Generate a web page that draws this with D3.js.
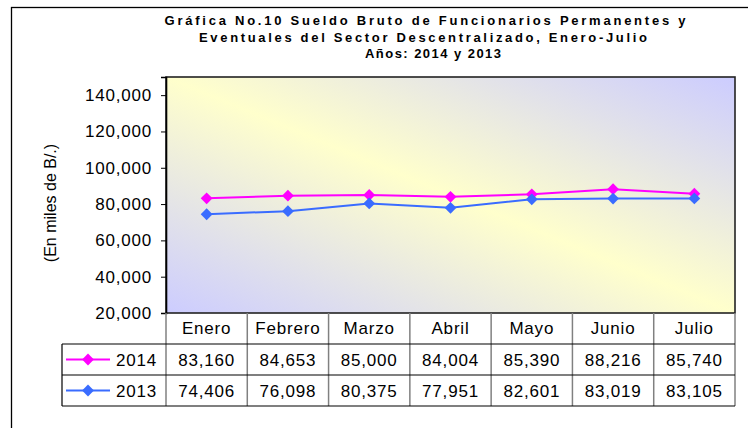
<!DOCTYPE html>
<html>
<head>
<meta charset="utf-8">
<script src="https://cdn.jsdelivr.net/npm/d3@7"></script>
<style>
  body { margin: 0; background: #fff; }
  text { font-family: "Liberation Sans", Arial, sans-serif; fill: #000; }
</style>
</head>
<body>
<div id="chart"></div>
<script>
// data
const months = ["Enero", "Febrero", "Marzo", "Abril", "Mayo", "Junio", "Julio"];
const values2014 = [83160, 84653, 85000, 84004, 85390, 88216, 85740];
const values2013 = [74406, 76098, 80375, 77951, 82601, 83019, 83105];
const yTicks = [20000, 40000, 60000, 80000, 100000, 120000, 140000];
const titleLines = [
    "Gráfica No.10 Sueldo Bruto de Funcionarios Permanentes y",
    "Eventuales del Sector Descentralizado, Enero-Julio",
    "Años: 2014 y 2013"
];
// measured width / centre of each title line
const titleWidths = [521, 448, 136];
const titleCenters = [425, 423, 433];

const series = [
    {name: "2014", values: values2014, color: "#ff00ff"},
    {name: "2013", values: values2013, color: "#3a6cff"}
];

const W = 748, H = 428;
const plot = {left: 166, right: 735, top: 77, bottom: 313};
const rowH = 31;
const legendLeft = 62;

const svg = d3.select("#chart").append("svg")
    .attr("width", W).attr("height", H);

// outer frame (runs off the right/bottom)
svg.append("rect")
    .attr("x", 11.5).attr("y", 7.5)
    .attr("width", W + 10).attr("height", H + 10)
    .attr("fill", "none").attr("stroke", "#000").attr("stroke-width", 1.3);

// title
svg.append("g").selectAll("text")
    .data(titleLines).enter().append("text")
    .attr("x", (d, i) => titleCenters[i])
    .attr("y", (d, i) => 25 + i * 16.6)
    .attr("text-anchor", "middle")
    .attr("textLength", (d, i) => titleWidths[i])
    .attr("lengthAdjust", "spacing")
    .style("font-size", "13px").style("font-weight", "bold")
    .text(d => d);

// gradient for plot background
const grad = svg.append("defs").append("linearGradient")
    .attr("id", "bg").attr("x1", 0).attr("y1", 1).attr("x2", 1).attr("y2", 0);
grad.append("stop").attr("offset", "0%").attr("stop-color", "#ccccff");
grad.append("stop").attr("offset", "50%").attr("stop-color", "#ffffcc");
grad.append("stop").attr("offset", "100%").attr("stop-color", "#ccccff");

// scales
const x = d3.scaleBand().domain(months).range([plot.left, plot.right]);
const y = d3.scaleLinear().domain([20000, 150000]).range([plot.bottom, plot.top]);

svg.append("rect")
    .attr("x", plot.left).attr("y", plot.top)
    .attr("width", plot.right - plot.left).attr("height", plot.bottom - plot.top)
    .attr("fill", "url(#bg)")
    .attr("stroke", "#222").attr("stroke-width", 1.6);

// y axis
const yAxis = svg.append("g")
    .attr("transform", "translate(" + plot.left + ",0)")
    .call(d3.axisLeft(y).tickValues(yTicks).tickSize(5).tickPadding(9)
        .tickFormat(d3.format(",")));
yAxis.select(".domain").attr("stroke", "#000").attr("stroke-width", 1.6);
yAxis.selectAll("line").attr("stroke", "#000");
yAxis.selectAll("text")
    .style("font-size", "17px").style("letter-spacing", "0.8px")
    .attr("font-family", null).attr("fill", "#000");

svg.append("text")
    .attr("transform", "translate(56,203) rotate(-90)")
    .attr("text-anchor", "middle")
    .style("font-size", "16px")
    .text("(En miles de B/.)");

// lines and markers
const cx = (d, i) => x(months[i]) + x.bandwidth() / 2;
const line = d3.line()
    .x(cx)
    .y(d => y(d));
// square turned 45deg = Excel diamond
const diamond = d3.symbol().type(d3.symbolSquare).size(70);

series.forEach(s => {
    svg.append("path")
        .datum(s.values)
        .attr("d", line)
        .attr("fill", "none")
        .attr("stroke", s.color).attr("stroke-width", 2);
    svg.append("g").selectAll("path")
        .data(s.values).enter().append("path")
        .attr("d", diamond)
        .attr("transform", (d, i) => "translate(" + cx(d, i) + "," + y(d) + ") rotate(45)")
        .attr("fill", s.color);
});

// data table
const table = svg.append("g");
const tableBottom = plot.bottom + rowH * 3;

// header labels
table.selectAll(".hdr")
    .data(months).enter().append("text")
    .attr("x", d => x(d) + x.bandwidth() / 2)
    .attr("y", plot.bottom + 21)
    .attr("text-anchor", "middle")
    .style("font-size", "17px").style("letter-spacing", "0.8px")
    .text(d => d);

// vertical grid of table
const vLines = months.map(d => x(d)).concat([plot.right]);
table.selectAll(".vl")
    .data(vLines).enter().append("line")
    .attr("x1", d => d).attr("x2", d => d)
    .attr("y1", plot.bottom).attr("y2", tableBottom)
    .attr("stroke", "#808080").attr("stroke-width", 1.5);

// horizontal lines
[1, 2, 3].forEach(r => {
    table.append("line")
        .attr("x1", legendLeft).attr("x2", plot.right)
        .attr("y1", plot.bottom + rowH * r).attr("y2", plot.bottom + rowH * r)
        .attr("stroke", "#000").attr("stroke-width", 1.2);
});
table.append("line")
    .attr("x1", legendLeft).attr("x2", legendLeft)
    .attr("y1", plot.bottom + rowH).attr("y2", tableBottom)
    .attr("stroke", "#000").attr("stroke-width", 1.2);

const fmt = d3.format(",");
series.forEach((s, r) => {
    const rowY = plot.bottom + rowH * (r + 1);
    const mid = rowY + rowH / 2;
    // legend key
    table.append("line")
        .attr("x1", 66).attr("x2", 110)
        .attr("y1", mid).attr("y2", mid)
        .attr("stroke", s.color).attr("stroke-width", 2);
    table.append("path")
        .attr("d", diamond)
        .attr("transform", "translate(88," + mid + ") rotate(45)")
        .attr("fill", s.color);
    table.append("text")
        .attr("x", 116).attr("y", mid + 6)
        .style("font-size", "17px").style("letter-spacing", "0.8px")
        .text(s.name);
    // values
    table.append("g").selectAll("text")
        .data(s.values).enter().append("text")
        .attr("x", (d, i) => x(months[i]) + x.bandwidth() / 2)
        .attr("y", mid + 6)
        .attr("text-anchor", "middle")
        .style("font-size", "17px").style("letter-spacing", "0.8px")
        .text(d => fmt(d));
});
</script>
</body>
</html>
